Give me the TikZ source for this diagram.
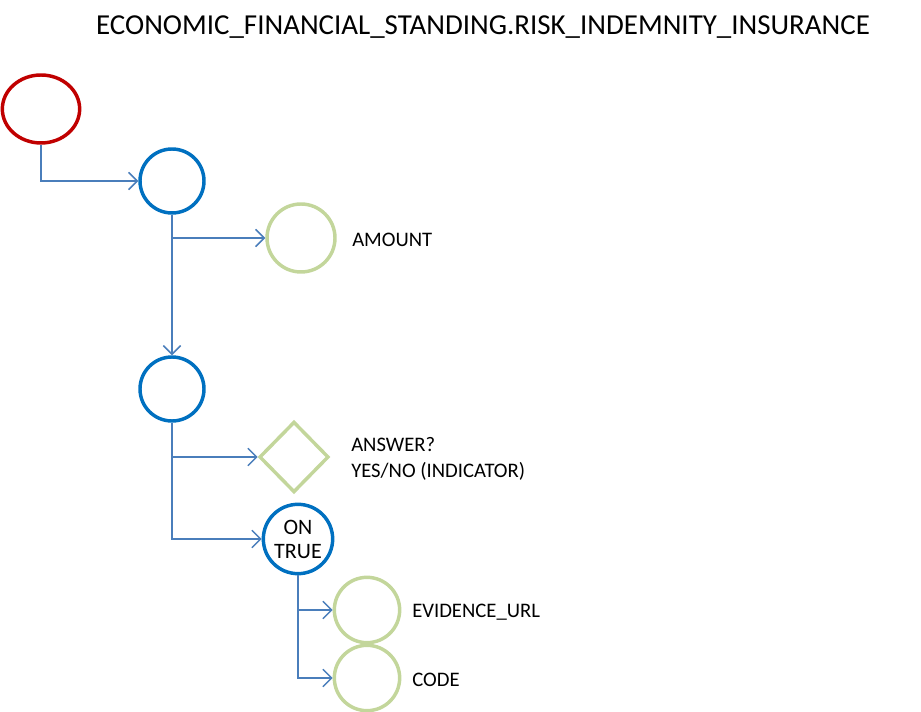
\documentclass[tikz,border=0pt]{standalone}
\usepackage{fontspec}
\setmainfont{Carlito}
\usetikzlibrary{shapes.geometric,arrows.meta}
\definecolor{redc}{HTML}{C00000}
\definecolor{bluec}{HTML}{0070C0}
\definecolor{greenc}{HTML}{C3D69B}
\definecolor{linec}{HTML}{4A7EBB}
\tikzset{
  startnode/.style={ellipse,draw=redc,line width=2.6pt,minimum width=58pt,minimum height=51pt,inner sep=0pt},
  bluenode/.style={circle,draw=bluec,line width=2.6pt,minimum size=48pt,inner sep=0pt,align=center,font=\fontsize{16.5pt}{18pt}\selectfont},
  greennode/.style={circle,draw=greenc,line width=2.6pt,minimum size=51pt,inner sep=0pt},
  greendia/.style={diamond,draw=greenc,line width=2.6pt,minimum width=52pt,minimum height=53pt,inner sep=0pt},
  lbl/.style={anchor=west,inner sep=0pt,align=left,font=\fontsize{15.5pt}{19.5pt}\selectfont},
  arr/.style={draw=linec,line width=1.1pt,-{Straight Barb[length=6.5pt,width=13pt,line width=1.1pt]}}
}
\begin{document}
\begin{tikzpicture}[x=0.75pt,y=-0.75pt]
\useasboundingbox (0,0) rectangle (921,712);
\node[font=\fontsize{21.7pt}{26pt}\selectfont] (title) at (483,27) {ECONOMIC\_FINANCIAL\_STANDING.RISK\_INDEMNITY\_INSURANCE};
\node[startnode] (start) at (41,109) {};
\node[bluenode] (b1) at (172,181) {};
\node[greennode] (amt) at (301,238) {};
\node[lbl] (amtl) at (352,240) {AMOUNT};
\node[bluenode] (b2) at (172,389) {};
\node[greendia] (dia) at (294,457) {};
\node[lbl] (dial) at (351,459) {ANSWER?\\YES/NO (INDICATOR)};
\node[bluenode,minimum size=52pt] (ont) at (298,539) {ON\\TRUE};
\node[greennode,minimum size=49pt] (ev) at (367,610) {};
\node[lbl] (evl) at (412,612) {EVIDENCE\_URL};
\node[greennode,minimum size=49pt] (code) at (367,678) {};
\node[lbl] (codel) at (412,680) {CODE};
\draw[arr] (start.south) |- (b1.west);
\draw[arr] (b1.south) |- (amt.west);
\draw[arr] (b1.south) -- (b2.north);
\draw[arr] (b2.south) |- (dia.west);
\draw[arr] (b2.south) |- (ont.west);
\draw[arr] (ont.south) |- (ev.west);
\draw[arr] (ont.south) |- (code.west);
\end{tikzpicture}
\end{document}
